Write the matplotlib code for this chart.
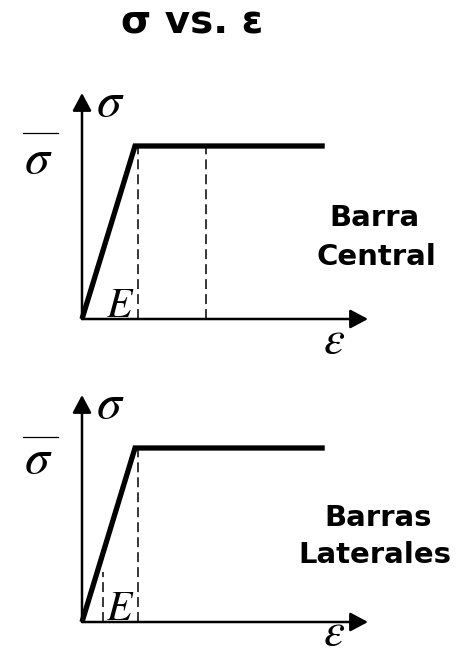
import matplotlib.pyplot as plt
from matplotlib.patches import FancyArrowPatch

plt.rcParams["mathtext.fontset"] = "stix"

# stress-strain curve (strain in units of yield strain, stress in units of sigma_bar)
strain = [0.0, 1.0, 4.58]
stress = [0.0, 1.0, 1.0]

# dashed guide lines: (strain, height) per panel
top_guides = [(1.05, 1.0), (2.34, 1.0)]
bottom_guides = [(1.05, 1.0), (0.40, 0.29)]

panel_labels = [["Barra", "Central"], ["Barras", "Laterales"]]

W, H = 474, 655
fig = plt.figure(figsize=(W / 100, H / 100), dpi=100)

bold = dict(family="DejaVu Sans", weight="bold", color="black")


def px(x, y):
    return x / W, 1 - y / H


def panel(origin, top, yscale, guides, eps_base, sbar_base, sbar_line):
    ox, oy = origin
    xscale = 53.0
    right = 368
    ax = fig.add_axes([ox / W, 1 - oy / H, (right - ox) / W, (oy - top) / H])
    ax.set_xlim(0, (right - ox) / xscale)
    ax.set_ylim(0, (oy - top) / yscale)
    ax.axis("off")

    arrow = dict(arrowstyle="-|>,head_length=0.6,head_width=0.32",
                 mutation_scale=18, lw=1.8, color="black",
                 shrinkA=0, shrinkB=0, clip_on=False)
    ax.add_patch(FancyArrowPatch((0, 0), (1, 0), transform=ax.transAxes, **arrow))
    ax.add_patch(FancyArrowPatch((0, 0), (0, 1), transform=ax.transAxes, **arrow))

    ax.plot(strain, stress, color="black", lw=3.8, solid_capstyle="butt",
            solid_joinstyle="miter", clip_on=False, zorder=3)
    for gx, gh in guides:
        ax.plot([gx, gx], [0, gh], color="black", lw=1.1,
                dashes=(6.5, 3.3), clip_on=False, zorder=2)

    ax.text(0.26, 1.172, r"$\sigma$", ha="left", va="baseline", fontsize=36)
    ax.text(0.46, 0.01, r"$E$", ha="left", va="baseline", fontsize=30)
    ax.text(4.75, eps_base, r"$\varepsilon$", ha="center", va="baseline", fontsize=34)
    ax.text(-0.83, sbar_base, r"$\sigma$", ha="center", va="baseline", fontsize=36,
            clip_on=False)
    ax.plot([-1.11, -0.45], [sbar_line, sbar_line], color="black", lw=0.9, clip_on=False)
    return ax


panel((82, 319), 93, 173.0, top_guides, -0.197, 0.844, 1.075)
panel((82, 622), 395, 174.0, bottom_guides, -0.135, 0.856, 1.063)

fig.text(*px(192, 33), "σ vs. ε", ha="center", va="baseline", fontsize=28, **bold)

for (cx1, b1, cx2, b2), lines in zip([(374, 226, 376, 265), (378, 526, 375, 563)],
                                     panel_labels):
    fig.text(*px(cx1, b1), lines[0], ha="center", va="baseline", fontsize=21, **bold)
    fig.text(*px(cx2, b2), lines[1], ha="center", va="baseline", fontsize=21, **bold)

fig.savefig("out.png", dpi=100, facecolor="white")
